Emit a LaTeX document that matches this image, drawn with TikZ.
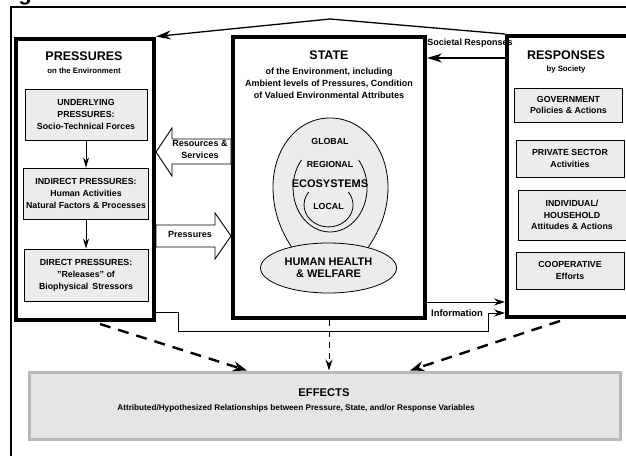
\documentclass[tikz,border=0pt]{standalone}
\usepackage{fontspec}
\setmainfont{Liberation Sans}
\usetikzlibrary{arrows.meta,shapes.geometric}

\newcommand{\fsz}[2]{\fontsize{#1}{#2}\selectfont\bfseries}

\begin{document}
\begin{tikzpicture}[x=1pt,y=-1pt,>={Stealth[length=11pt,width=7pt]},
                    line join=miter]
\tikzstyle{every node}=[inner sep=0pt,align=center,font=\fsz{9}{12}]
\tikzstyle{bigbox}=[draw,line width=4pt,minimum height=281]
\tikzstyle{subbox}=[draw,line width=0.8pt,fill=gray!15]
\tikzstyle{ttl}=[font=\fsz{12.5}{14}]
\tikzstyle{sub}=[font=\fsz{7.8}{9}]
\tikzstyle{pbox}=[subbox,font=\fsz{8.8}{12}]
\tikzstyle{rbox}=[subbox,minimum width=108,font=\fsz{8.8}{11.5}]
\tikzstyle{eco}=[font=\fsz{8.8}{10}]
\tikzstyle{blk}=[draw,line width=0.9pt,fill=white]
\tikzstyle{link}=[->,line width=1.1pt]
\tikzstyle{biglink}=[-{Stealth[length=15pt,width=9pt]},line width=1.3pt]
\tikzstyle{effarrow}=[-{Stealth[length=14pt,width=10pt]},line width=2.4pt,
                      dash pattern=on 11pt off 8pt]
\useasboundingbox (0,0) rectangle (626,455);
\fill[white] (0,0) rectangle (626,455);

% figure number, cut off at the top
\node[font=\fsz{22}{22},anchor=base] (fig) at (25,0.5) {g};

% frame
\draw[line width=2pt] (11,457) -- (11,7) -- (628,7);

% the three main boxes
\node[bigbox,minimum width=138] (pres) at (85,179) {};
\node[bigbox,minimum width=192] (state) at (329,177.5) {};
\node[bigbox,minimum width=143] (resp) at (578.5,176.5) {};

% pressures
\node[ttl] (ptitle) at (84,56) {PRESSURES};
\node[sub] (psub) at (84,71) {on the Environment};
\node[pbox,minimum width=122,minimum height=51] (under) at (86,114.5)
  {UNDERLYING\\PRESSURES:\\Socio-Technical Forces};
\node[pbox,minimum width=125,minimum height=51] (indir) at (86,193.5)
  {INDIRECT PRESSURES:\\Human Activities\\Natural Factors \& Processes};
\node[pbox,minimum width=124,minimum height=52] (direct) at (86,275)
  {DIRECT PRESSURES:\\"Releases" of\\Biophysical\hspace{4pt}Stressors};
\draw[->,>={Stealth[length=10pt,width=6pt]},line width=1pt] (under) -- (indir);
\draw[->,>={Stealth[length=10pt,width=6pt]},line width=1pt] (indir) -- (direct);

% state
\node[ttl] (stitle) at (329,55) {STATE};
\node (sdesc) at (329,83) {of the Environment, including\\Ambient levels of Pressures, Condition\\of Valued Environmental Attributes};
\draw[fill=gray!15,line width=0.8pt] (330,118) .. controls (296,118) and (273,150) .. (273,187)
  .. controls (273,215) and (283,235) .. (295,252) -- (365,252)
  .. controls (377,235) and (388,215) .. (388,187)
  .. controls (388,150) and (364,118) .. (330,118) -- cycle;
\draw[line width=0.8pt] (301.5,160) arc[start angle=140.5,end angle=399.5,x radius=37pt,y radius=44pt];
\draw[line width=0.8pt] (308.7,192) arc[start angle=144,end angle=396,x radius=24.5pt,y radius=22pt];
\node[eco] (glob) at (330,141) {GLOBAL};
\node[eco] (reg) at (330,164) {REGIONAL};
\node[font=\fsz{11}{12}] (ecosys) at (330,184) {ECOSYSTEMS};
\node[eco] (loc) at (328.5,206) {LOCAL};
\node[draw,fill=gray!15,line width=0.8pt,ellipse,minimum width=136,minimum height=50,
      font=\fsz{11}{12.5}] (hh) at (328.5,268) {HUMAN HEALTH\\\& WELFARE};

% responses
\node[ttl] (rtitle) at (566,55) {RESPONSES};
\node[sub] (rsub) at (566,69) {by Society};
\node[rbox,minimum height=34] (gov) at (568.5,105) {GOVERNMENT\\Policies \& Actions};
\node[rbox,minimum height=37] (priv) at (570,158.5) {PRIVATE SECTOR\\Activities};
\node[rbox,minimum height=50] (indiv) at (572,215) {INDIVIDUAL/\\HOUSEHOLD\\Attitudes \& Actions};
\node[rbox,minimum height=37] (coop) at (570,270.5) {COOPERATIVE\\Efforts};

% block arrows between pressures and state
\draw[blk] (pres.east |- 0,152) -- (172,128) -- (172,139) -- (state.west |- 0,139)
  -- (state.west |- 0,164) -- (172,164) -- (172,176) -- cycle;
\node (res) at (200,149) {Resources \&\\Services};
\draw[blk] (pres.east |- 0,225) -- (215,225) -- (215,213) -- (state.west |- 0,236)
  -- (215,259) -- (215,247) -- (pres.east |- 0,247) -- cycle;
\node (prs) at (190,234) {Pressures};

% feedback
\draw[biglink] (resp.north west) -- (330,19) -- (pres.north east);
\draw[biglink] (resp.west |- 0,58) -- (state.east |- 0,58);
\node (soc) at (470,43) {Societal Responses};
\draw[link,line width=0.8pt] (state.east |- 0,302) -- (resp.west |- 0,302);
\draw[link,line width=0.8pt] (pres.east |- 0,312) -- (178,312) -- (178,331) -- (488,331)
  -- (488,313) -- (resp.west |- 0,313);
\node[font=\fsz{9.4}{10}] (info) at (457,313) {Information};

% effects
\node[draw=gray!55,line width=3pt,fill=gray!20,minimum width=591,minimum height=67] (eff) at (324.5,405.5) {};
\node[font=\fsz{11.2}{12}] (efftitle) at (324,393) {EFFECTS};
\node[font=\fsz{8.2}{10}] (effsub) at (296,408) {Attributed/Hypothesized Relationships between Pressure, State, and/or Response Variables};
\coordinate (pd) at (100,324);
\coordinate (rd) at (560,321);
\draw[effarrow] (pd) -- (eff.north -| 247,0);
\draw[effarrow] (rd) -- (eff.north -| 410,0);
\draw[->,line width=0.9pt,dash pattern=on 6pt off 5pt] (state.south) -- (eff.north -| state.south);
\end{tikzpicture}
\end{document}
